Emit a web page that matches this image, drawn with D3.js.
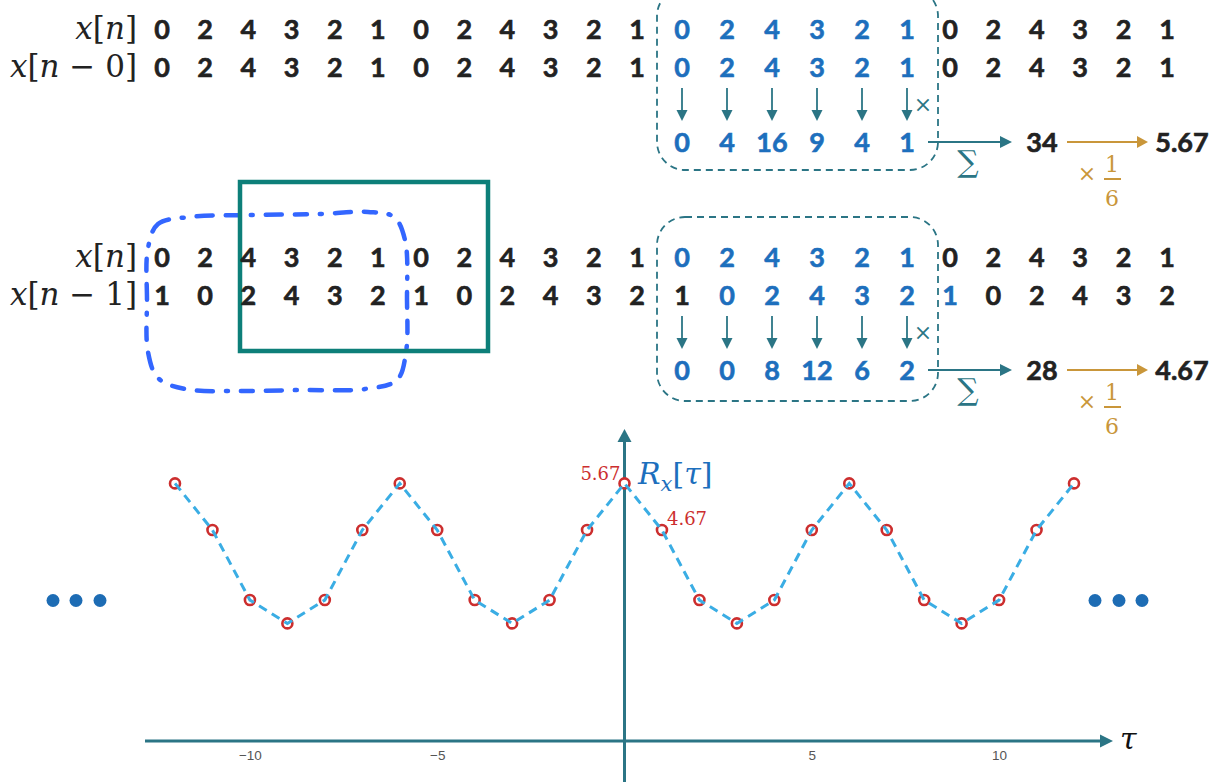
<!DOCTYPE html>
<html>
<head>
<meta charset="utf-8">
<script src="https://cdn.jsdelivr.net/npm/d3@7"></script>
<style>
  body { margin: 0; background: #fff; }
  svg { display: block; }
</style>
</head>
<body>
<svg id="chart" width="1223" height="782"></svg>
<script>
// ---- data -------------------------------------------------------------
// periodic sequence x[n] (period 6) written out over 24 samples
const xn     = [0,2,4,3,2,1, 0,2,4,3,2,1, 0,2,4,3,2,1, 0,2,4,3,2,1];
const xnLag0 = [0,2,4,3,2,1, 0,2,4,3,2,1, 0,2,4,3,2,1, 0,2,4,3,2,1];
const xnLag1 = [1,0,2,4,3,2, 1,0,2,4,3,2, 1,0,2,4,3,2, 1,0,2,4,3,2];

// highlighted sample indices in each row
const windowTop  = [12,13,14,15,16,17];
const windowLag0 = [12,13,14,15,16,17];
const windowLag1 = [13,14,15,16,17,18];
const windowCols = [12,13,14,15,16,17];

// element-wise products, sums and averages over one period
const products0 = [0,4,16,9,4,1];
const products1 = [0,0,8,12,6,2];
const sums      = [34, 28];
const averages  = ["5.67", "4.67"];
const lagNames  = ["0", "1"];

// autocorrelation R_x[tau]
const tau = [-12,-11,-10,-9,-8,-7,-6,-5,-4,-3,-2,-1,0,1,2,3,4,5,6,7,8,9,10,11,12];
const acf = [5.67,4.67,3.17,2.67,3.17,4.67, 5.67,4.67,3.17,2.67,3.17,4.67,
             5.67, 4.67,3.17,2.67,3.17,4.67, 5.67,4.67,3.17,2.67,3.17,4.67, 5.67];
const tauTicks = [-10,-5,5,10];
const acfLabels = [{t: 0, text: "5.67"}, {t: 1, text: "4.67"}];

// ---- style ------------------------------------------------------------
const INK = "#222222", BLUE = "#1d6fbd", TEAL = "#2b7585", GOLD = "#c9963a";
const RED = "#cc2e2e", DOTS = "#1d6cb4";
const LINE_COLOR = "#3aade4";
const NUM_FONT = "Lato, 'Open Sans', sans-serif";
const MATH_FONT = "'DejaVu Serif', 'Liberation Serif', serif";

const svg = d3.select("#chart");

// column positions for the sample rows
const colX = d3.scaleLinear()
  .domain([0, 11, 12, 17, 18, 23])
  .range([162, 637, 682, 907, 950, 1167]);

// ---- helpers ----------------------------------------------------------
function arrowHead(g, tipX, tipY, dir, len, half, color) {
  let pts;
  if (dir === "down") pts = [[tipX, tipY], [tipX - half, tipY - len], [tipX + half, tipY - len]];
  else if (dir === "right") pts = [[tipX, tipY], [tipX - len, tipY - half], [tipX - len, tipY + half]];
  else pts = [[tipX, tipY], [tipX - half, tipY + len], [tipX + half, tipY + len]];
  g.append("path").attr("d", "M" + pts.map(p => p.join(",")).join("L") + "Z").attr("fill", color);
}

function mathLabel(g, xRight, yBase, parts, size) {
  const t = g.append("text")
    .attr("x", xRight).attr("y", yBase)
    .attr("text-anchor", "end")
    .attr("font-family", MATH_FONT)
    .attr("font-size", size)
    .attr("fill", INK);
  parts.forEach(p => {
    t.append("tspan").attr("font-style", p.i ? "italic" : "normal").text(p.t);
  });
}

function boldNum(sel, color) {
  return sel.attr("text-anchor", "middle")
    .attr("dy", "0.36em")
    .attr("font-family", NUM_FONT)
    .attr("font-weight", 700)
    .attr("font-size", 27)
    .attr("fill", color)
    .attr("stroke", color)
    .attr("stroke-width", 0.6);
}

function numberRow(g, values, y, highlight) {
  g.selectAll(null).data(values).enter().append("text")
    .attr("x", (d, i) => colX(i))
    .attr("y", y)
    .call(s => boldNum(s, INK))
    .attr("fill", (d, i) => highlight.includes(i) ? BLUE : INK)
    .attr("stroke", (d, i) => highlight.includes(i) ? BLUE : INK)
    .text(d => d);
}

// ---- hand-drawn selection loop and window frame (second block) --------
const loopPts = [[148,248],[158,224],[190,217],[250,215],[320,214],[368,212],[394,217],
                 [405,240],[407,300],[406,352],[397,380],[365,389],[300,390],[240,391],
                 [185,389],[158,378],[148,352],[147,300]];
svg.append("path")
  .attr("d", d3.line().curve(d3.curveCatmullRomClosed.alpha(0.5))(loopPts))
  .attr("fill", "none")
  .attr("stroke", "#3366ff")
  .attr("stroke-width", 4.5)
  .attr("stroke-linecap", "round")
  .attr("stroke-dasharray", "12 13 2 13 16 13");

svg.append("rect")
  .attr("x", 240).attr("y", 182).attr("width", 248).attr("height", 169)
  .attr("fill", "none").attr("stroke", "#0d7f79").attr("stroke-width", 4.5);

// ---- the two computation blocks ---------------------------------------
const blocks = [
  { dy: 0,   lower: xnLag0, lowerHL: windowLag0, products: products0, sum: sums[0], avg: averages[0], lag: lagNames[0] },
  { dy: 228, lower: xnLag1, lowerHL: windowLag1, products: products1, sum: sums[1], avg: averages[1], lag: lagNames[1] }
];

blocks.forEach(b => {
  const g = svg.append("g").attr("transform", `translate(0,${b.dy})`);
  const rowA = 29, rowB = 67, rowP = 142;

  // dashed frame around the current period
  g.append("rect")
    .attr("x", 657).attr("y", b.dy === 0 ? -12 : -11).attr("width", 281).attr("height", b.dy === 0 ? 182 : 184)
    .attr("rx", 28).attr("ry", 28)
    .attr("fill", "none").attr("stroke", TEAL).attr("stroke-width", 1.8)
    .attr("stroke-dasharray", "7 5");

  // row labels
  mathLabel(g, 137, rowA + 10, [{t: "x", i: true}, {t: "[", i: false}, {t: "n", i: true}, {t: "]", i: false}], 31);
  mathLabel(g, 137, rowB + 10, [{t: "x", i: true}, {t: "[", i: false}, {t: "n", i: true}, {t: " \u2212 " + b.lag + "]", i: false}], 31);

  numberRow(g, xn, rowA, windowTop);
  numberRow(g, b.lower, rowB, b.lowerHL);

  // multiplication arrows
  windowCols.forEach(c => {
    const cx = colX(c);
    g.append("line").attr("x1", cx).attr("x2", cx).attr("y1", 88).attr("y2", 112)
      .attr("stroke", TEAL).attr("stroke-width", 1.8);
    arrowHead(g, cx, 121, "down", 11, 5.5, TEAL);
  });
  g.append("text").attr("x", 923).attr("y", 104).attr("dy", "0.35em")
    .attr("text-anchor", "middle").attr("font-family", MATH_FONT).attr("font-size", 22)
    .attr("fill", TEAL).text("\u00d7");

  // products
  g.selectAll(null).data(b.products).enter().append("text")
    .attr("x", (d, i) => colX(windowCols[i]))
    .attr("y", rowP)
    .call(s => boldNum(s, BLUE))
    .text(d => d);

  // sum arrow
  g.append("line").attr("x1", 928).attr("x2", 1002).attr("y1", rowP).attr("y2", rowP)
    .attr("stroke", TEAL).attr("stroke-width", 1.8);
  arrowHead(g, 1012, rowP, "right", 12, 6, TEAL);
  g.append("text").attr("x", 968).attr("y", rowP + 30)
    .attr("text-anchor", "middle").attr("font-family", MATH_FONT).attr("font-size", 30)
    .attr("fill", TEAL).text("\u2211");

  g.append("text").attr("x", 1042).attr("y", rowP)
    .call(s => boldNum(s, INK)).text(b.sum);

  // scale by 1/6
  g.append("line").attr("x1", 1067).attr("x2", 1138).attr("y1", rowP).attr("y2", rowP)
    .attr("stroke", GOLD).attr("stroke-width", 1.8);
  arrowHead(g, 1148, rowP, "right", 11, 6, GOLD);
  g.append("text").attr("x", 1087).attr("y", rowP + 39)
    .attr("text-anchor", "middle").attr("font-family", MATH_FONT).attr("font-size", 22)
    .attr("fill", GOLD).text("\u00d7");
  g.append("text").attr("x", 1112).attr("y", rowP + 30)
    .attr("text-anchor", "middle").attr("font-family", MATH_FONT).attr("font-size", 22)
    .attr("fill", GOLD).text("1");
  g.append("line").attr("x1", 1104).attr("x2", 1121).attr("y1", rowP + 37).attr("y2", rowP + 37)
    .attr("stroke", GOLD).attr("stroke-width", 2);
  g.append("text").attr("x", 1112).attr("y", rowP + 64)
    .attr("text-anchor", "middle").attr("font-family", MATH_FONT).attr("font-size", 22)
    .attr("fill", GOLD).text("6");

  g.append("text").attr("x", 1182).attr("y", rowP)
    .call(s => boldNum(s, INK)).text(b.avg);
});

// ---- autocorrelation plot ---------------------------------------------
const x = d3.scaleLinear().domain([-12, 12]).range([175, 1074]);
const y = d3.scaleLinear().domain([0, 6]).range([748, 468]);
const axisY = 741;

const plot = svg.append("g");

// axes with arrows
plot.append("line").attr("x1", 145).attr("x2", 1101).attr("y1", axisY).attr("y2", axisY)
  .attr("stroke", TEAL).attr("stroke-width", 3);
arrowHead(plot, 1113, axisY, "right", 13, 6.5, TEAL);
plot.append("line").attr("x1", x(0)).attr("x2", x(0)).attr("y1", 782).attr("y2", 441)
  .attr("stroke", TEAL).attr("stroke-width", 3);
arrowHead(plot, x(0), 429, "up", 13, 7, TEAL);

// tick labels
const axis = plot.append("g").attr("transform", `translate(0,${axisY})`)
  .call(d3.axisBottom(x).tickValues(tauTicks).tickSize(0).tickPadding(9));
axis.select(".domain").remove();
axis.attr("font-size", null).attr("font-family", null);
axis.selectAll("text")
  .style("font-family", "'Liberation Sans', Arial, sans-serif")
  .style("font-size", "13.5px")
  .style("fill", "#555555");

// axis titles
plot.append("text").attr("x", 1120).attr("y", 749)
  .attr("font-family", MATH_FONT).attr("font-style", "italic").attr("font-size", 30)
  .attr("fill", "#111").text("\u03c4");
const rt = plot.append("text").attr("x", 638).attr("y", 484)
  .attr("font-family", MATH_FONT).attr("font-size", 30).attr("fill", BLUE);
rt.append("tspan").attr("font-style", "italic").text("R");
rt.append("tspan").attr("font-style", "italic").attr("font-size", 21).attr("dy", 7).text("x");
rt.append("tspan").attr("dy", -7).text("[");
rt.append("tspan").attr("font-style", "italic").text("\u03c4");
rt.append("tspan").text("]");

// samples
const pts = tau.map((t, i) => ({ t, r: acf[i] }));
plot.selectAll(null).data(pts).enter().append("circle")
  .attr("cx", d => x(d.t)).attr("cy", d => y(d.r)).attr("r", 5)
  .attr("fill", "#fff").attr("stroke", RED).attr("stroke-width", 2.6);

plot.append("path").datum(pts)
  .attr("d", d3.line().x(d => x(d.t)).y(d => y(d.r)))
  .attr("fill", "none").attr("stroke", LINE_COLOR).attr("stroke-width", 3)
  .attr("stroke-dasharray", "9 6");

// value labels at tau = 0 and tau = 1
plot.selectAll(null).data(acfLabels).enter().append("text")
  .attr("x", d => d.t === 0 ? x(d.t) - 4 : x(d.t) + 5)
  .attr("y", d => d.t === 0 ? y(acf[tau.indexOf(d.t)]) - 3 : y(acf[tau.indexOf(d.t)]) - 5)
  .attr("text-anchor", d => d.t === 0 ? "end" : "start")
  .attr("font-family", MATH_FONT).attr("font-size", 18).attr("fill", RED)
  .text(d => d.text);

// continuation dots
const leftDots = [53, 76, 100], rightDots = [1095, 1119, 1142];
plot.selectAll(null).data(leftDots.concat(rightDots)).enter().append("circle")
  .attr("cx", d => d).attr("cy", 600.5).attr("r", 6.5).attr("fill", DOTS);
</script>
</body>
</html>
